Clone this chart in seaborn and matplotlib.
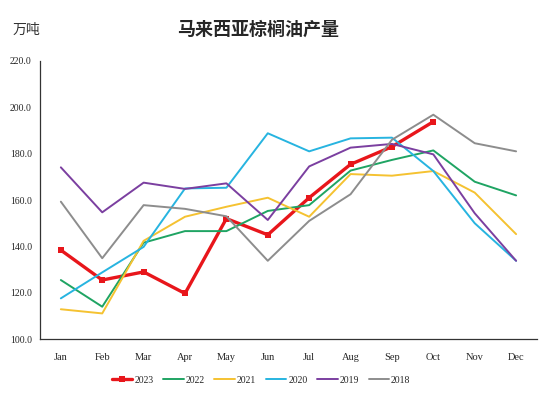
import pandas as pd
import matplotlib.pyplot as plt
import seaborn as sns

months = ['Jan', 'Feb', 'Mar', 'Apr', 'May', 'Jun', 'Jul', 'Aug', 'Sep', 'Oct', 'Nov', 'Dec']
y2023 = [138.4, 125.5, 129.0, 119.7, 152.0, 145.0, 161.0, 175.4, 183.0, 193.8]
y2022 = [125.5, 114.0, 141.6, 146.6, 146.6, 155.3, 157.8, 172.7, 177.3, 181.4, 167.9, 162.0]
y2021 = [112.9, 111.1, 142.4, 152.8, 157.1, 161.0, 152.8, 171.2, 170.5, 172.5, 163.2, 145.3]
y2020 = [117.6, 128.8, 139.8, 165.0, 165.3, 188.8, 181.0, 186.6, 186.9, 172.5, 150.0, 133.8]
y2019 = [174.1, 154.7, 167.5, 164.8, 167.2, 151.4, 174.5, 182.6, 184.2, 179.7, 154.3, 133.8]
y2018 = [159.3, 134.9, 157.8, 156.2, 153.0, 133.8, 151.0, 162.5, 186.0, 196.8, 184.5, 181.0]

series = {'2023': y2023, '2022': y2022, '2021': y2021,
          '2020': y2020, '2019': y2019, '2018': y2018}
colors = {'2023': '#e8161b', '2022': '#1fa463', '2021': '#f5c231',
          '2020': '#27b4e0', '2019': '#7b3fa0', '2018': '#8d8d8d'}

sns.set_style('white')
plt.rcParams['font.family'] = ['Liberation Serif', 'Noto Sans CJK SC', 'DejaVu Sans']

fig = plt.figure(figsize=(5.5, 3.93), dpi=100)
ax = fig.add_axes([0.073, 0.137, 0.903, 0.708])

for year, vals in series.items():
    df = pd.DataFrame({'pos': range(len(vals)), 'val': vals})
    if year == '2023':
        sns.lineplot(data=df, x='pos', y='val', ax=ax, color=colors[year], linewidth=2.4,
                     marker='s', markersize=5, markeredgewidth=0, label=year)
    else:
        sns.lineplot(data=df, x='pos', y='val', ax=ax, color=colors[year], linewidth=1.4,
                     label=year)

ax.set_xlim(-0.5, 11.5)
ax.set_ylim(100, 220)
ax.set_yticks(range(100, 221, 20))
ax.set_yticklabels([f'{v:.1f}' for v in range(100, 221, 20)], fontsize=7)
ax.set_xticks(range(12))
ax.set_xticklabels(months, fontsize=7.5)
ax.set_xticks([i - 0.5 for i in range(13)], minor=True)
ax.tick_params(axis='x', which='major', length=0, pad=10)
ax.tick_params(axis='x', which='minor', length=3, direction='out', color='#333333')
ax.tick_params(axis='y', which='major', length=3, direction='out', color='#333333', pad=3)
ax.set_xlabel('')
ax.set_ylabel('')
for s in ['top', 'right']:
    ax.spines[s].set_visible(False)
for s in ['left', 'bottom']:
    ax.spines[s].set_color('#333333')
    ax.spines[s].set_linewidth(0.9)

ax.legend(loc='upper center', bbox_to_anchor=(0.445, -0.1), ncol=6, frameon=False,
          fontsize=7, handlelength=2.1, handletextpad=0.2, columnspacing=1.0)

fig.text(0.47, 0.925, '马来西亚棕榈油产量', fontsize=13, fontweight='bold', ha='center', va='center',
         family=['Noto Sans CJK SC'])
fig.text(0.022, 0.925, '万吨', fontsize=10, ha='left', va='center', color='#333333',
         family=['Noto Sans CJK SC'])

fig.savefig('out.png', dpi=100)
